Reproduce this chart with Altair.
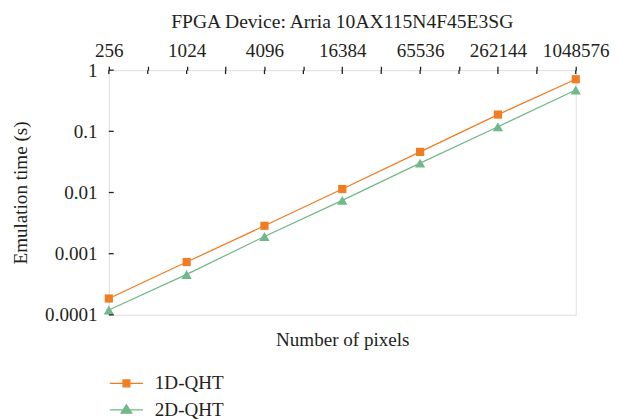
import altair as alt
import pandas as pd

# ---- data ----
pixels = [256, 1024, 4096, 16384, 65536, 262144, 1048576]
time_1d = [0.000185, 0.00073, 0.00286, 0.0114, 0.0461, 0.188, 0.71]
time_2d = [0.000120, 0.000458, 0.00191, 0.00745, 0.0302, 0.119, 0.473]
series_names = ["1D-QHT", "2D-QHT"]
series_colors = ["#F07D22", "#71B98A"]
x_tick_values = [256, 512, 1024, 2048, 4096, 8192, 16384, 32768, 65536,
                 131072, 262144, 524288, 1048576]
y_tick_values = [0.0001, 0.001, 0.01, 0.1, 1]

FONT = "Liberation Serif"
INK = "#231f20"

df = pd.DataFrame({
    "pixels": pixels * 2,
    "time": time_1d + time_2d,
    "series": [series_names[0]] * len(pixels) + [series_names[1]] * len(pixels),
})
xt_df = pd.DataFrame({"pixels": x_tick_values})
yt_df = pd.DataFrame({"time": y_tick_values})

x_scale = alt.Scale(type="log", base=2, domain=[pixels[0], pixels[-1]], nice=False)
y_scale = alt.Scale(type="log", domain=[y_tick_values[0], y_tick_values[-1]], nice=False)

label_expr = f"indexof({pixels}, datum.value) >= 0 ? format(datum.value, 'd') : ''"

x_axis = alt.Axis(
    orient="top", values=x_tick_values, labelExpr=label_expr, labelOverlap=False,
    labelFlush=False,
    ticks=True, tickSize=4, tickWidth=1.3, tickColor=INK, domain=False, grid=False,
    labelPadding=6, labelFont=FONT, labelFontSize=19.5, labelColor=INK,
    title="Number of pixels", titleY=281, titleBaseline="alphabetic",
    titleFont=FONT, titleFontSize=19.5, titleFontWeight="normal", titleColor=INK,
)
y_axis = alt.Axis(
    orient="left", values=y_tick_values, format=".4~f", ticks=False, tickSize=0,
    domain=False, grid=False, labelPadding=12, labelFont=FONT, labelFontSize=19.5,
    labelColor=INK, title="Emulation time (s)", titlePadding=14, titleFont=FONT,
    titleFontSize=19.5, titleFontWeight="normal", titleColor=INK,
)

xs = alt.X("pixels:Q", scale=x_scale, axis=x_axis)
ys = alt.Y("time:Q", scale=y_scale, axis=y_axis)

layers = []
shapes = ["square", "triangle-up"]
sizes = [70, 110]
for name, col, shp, sz in zip(series_names, series_colors, shapes, sizes):
    sub = alt.Chart(df).transform_filter(alt.datum.series == name)
    layers.append(sub.mark_line(color=col, strokeWidth=1.3).encode(x=xs, y=ys))
    layers.append(sub.mark_point(shape=shp, filled=True, size=sz, color=col, opacity=1)
                  .encode(x=xs, y=ys))

# inner halves of the tick marks
top_ticks = alt.Chart(xt_df).mark_rule(color=INK, strokeWidth=1.3).encode(
    x=xs, y=alt.value(0), y2=alt.value(4))
left_ticks = alt.Chart(yt_df).mark_rule(color=INK, strokeWidth=1.3).encode(
    y=ys, x=alt.value(0), x2=alt.value(5))

# legend (line-through-marker symbols)
path_sq = "M-1.7,0H1.7M-0.35,-0.35H0.35V0.35H-0.35Z"
path_tri = "M-1.7,0H1.7M0,-0.52L0.55,0.34H-0.55Z"
leg = alt.Legend(
    title=None, orient="none", legendX=7, legendY=309, direction="vertical",
    symbolSize=400, symbolStrokeWidth=1.3, symbolOpacity=1, padding=0,
    labelFont=FONT, labelFontSize=19.5, labelColor=INK, labelOffset=18, rowPadding=6,
)
legend_layer = alt.Chart(df).mark_point(filled=True, opacity=0).encode(
    x=xs, y=ys,
    fill=alt.Fill("series:N", scale=alt.Scale(domain=series_names, range=series_colors), legend=leg),
    stroke=alt.Stroke("series:N", scale=alt.Scale(domain=series_names, range=series_colors), legend=leg),
    shape=alt.Shape("series:N", scale=alt.Scale(domain=series_names, range=[path_sq, path_tri]), legend=leg),
)

chart = alt.layer(*layers, top_ticks, left_ticks, legend_layer).properties(
    width=477, height=250,
    title=alt.TitleParams(
        "FPGA Device: Arria 10AX115N4F45E3SG", font=FONT, fontSize=20,
        fontWeight="normal", color=INK, anchor="middle", frame="group", offset=9),
    padding={"left": 3, "top": 0, "right": 0, "bottom": 0},
).configure_view(
    stroke=INK, strokeWidth=1.5
).configure(
    background="white", font=FONT
).configure_axis(
    labelFont=FONT, titleFont=FONT
).configure_legend(
    labelFont=FONT
)

chart.save("out.html", embed_options={"renderer": "svg", "actions": False})
